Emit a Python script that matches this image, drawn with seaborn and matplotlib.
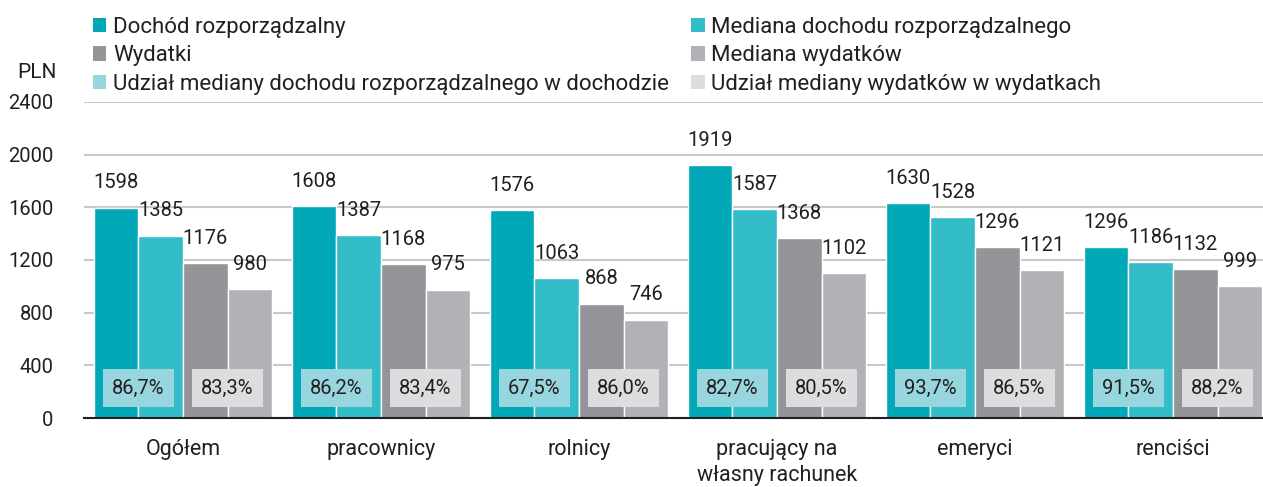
import matplotlib
matplotlib.use('Agg')
import matplotlib.pyplot as plt
from matplotlib.patches import Patch
import seaborn as sns
import pandas as pd
import numpy as np

# data
groups = ['Ogółem', 'pracownicy', 'rolnicy', 'pracujący na\nwłasny rachunek', 'emeryci', 'renciści']
dochod = [1598, 1608, 1576, 1919, 1630, 1296]
med_dochod = [1385, 1387, 1063, 1587, 1528, 1186]
wydatki = [1176, 1168, 868, 1368, 1296, 1132]
med_wydatki = [980, 975, 746, 1102, 1121, 999]
udzial_doch = ['86,7%', '86,2%', '67,5%', '82,7%', '93,7%', '91,5%']
udzial_wyd = ['83,3%', '83,4%', '86,0%', '80,5%', '86,5%', '88,2%']

series = ['Dochód rozporządzalny', 'Mediana dochodu rozporządzalnego', 'Wydatki', 'Mediana wydatków']
colors = ['#00a8b8', '#33bdc9', '#939598', '#b1b2b6']
box_names = ['Udział mediany dochodu rozporządzalnego w dochodzie', 'Udział mediany wydatków w wydatkach']
box_colors = ['#98d6df', '#dcdddf']

df = pd.DataFrame({'grupa': groups * 4,
                   'seria': np.repeat(series, len(groups)),
                   'wartosc': dochod + med_dochod + wydatki + med_wydatki})

sns.set_style('white')
plt.rcParams['font.family'] = ['Roboto', 'DejaVu Sans']
txt = '#231f20'

fig = plt.figure(figsize=(12.63, 4.87), dpi=100)
ax = fig.add_axes([84 / 1263, 1 - 418 / 487, 1188 / 1263, 316 / 487])

sns.barplot(data=df, x='grupa', y='wartosc', hue='seria', palette=colors,
            width=0.9, saturation=1, ax=ax, legend=False, zorder=2)

ax.set_ylim(0, 2400)
ax.set_xlim(-0.5, len(groups) - 0.5)
ax.set_yticks(range(0, 2401, 400))
ax.yaxis.grid(True, color='#c8c8c8', linewidth=1.5, zorder=0)
ax.set_axisbelow(True)
for s in ['top', 'right', 'left']:
    ax.spines[s].set_visible(False)
ax.spines['bottom'].set_color(txt)
ax.spines['bottom'].set_linewidth(1.5)
ax.set_xlabel('')
ax.set_ylabel('')
ax.tick_params(axis='y', length=0, labelsize=14.5, labelcolor=txt, pad=22)
ax.tick_params(axis='x', which='major', length=0, labelsize=15.5, labelcolor=txt, pad=15)
for t in ax.get_xticklabels():
    t.set_linespacing(1.3)
ax.set_xticks(np.arange(-0.5, len(groups)), minor=True)
ax.tick_params(axis='x', which='minor', length=11, width=1.5, color=txt, direction='out')

# value labels above bars
for cont in ax.containers:
    for rect in cont:
        h = rect.get_height()
        ax.annotate(f'{h:.0f}', (rect.get_x() + rect.get_width() / 2, h),
                    xytext=(0, 11), textcoords='offset points', ha='center', va='bottom',
                    fontsize=14.5, color=txt)

# share boxes
bw = 0.9 / 4
for i in range(len(groups)):
    for j, (lab, c) in enumerate([(udzial_doch[i], box_colors[0]), (udzial_wyd[i], box_colors[1])]):
        xc = i - 0.45 + bw * (2 * j + 1)
        ax.text(xc, 228, lab, ha='center', va='center', fontsize=14.5, color=txt, zorder=5,
                bbox=dict(boxstyle='square,pad=0.45', facecolor=c, edgecolor='none'))

fig.text(37 / 1263, 1 - 73 / 487, 'PLN', ha='center', va='center', fontsize=15, color=txt)

# legend
names = [series[0], series[2], box_names[0], series[1], series[3], box_names[1]]
cols = [colors[0], colors[2], box_colors[0], colors[1], colors[3], box_colors[1]]
handles = [Patch(facecolor=c, edgecolor='none') for c in cols]
fig.legend(handles, names, loc='upper left', bbox_to_anchor=(93 / 1263, 1 - 17 / 487), ncol=2,
           frameon=False, fontsize=16, handlelength=0.6, handleheight=0.6, handletextpad=0.3,
           labelspacing=0.33, columnspacing=1.0, labelcolor=txt, borderpad=0, borderaxespad=0)

fig.savefig('out.png', dpi=100)
